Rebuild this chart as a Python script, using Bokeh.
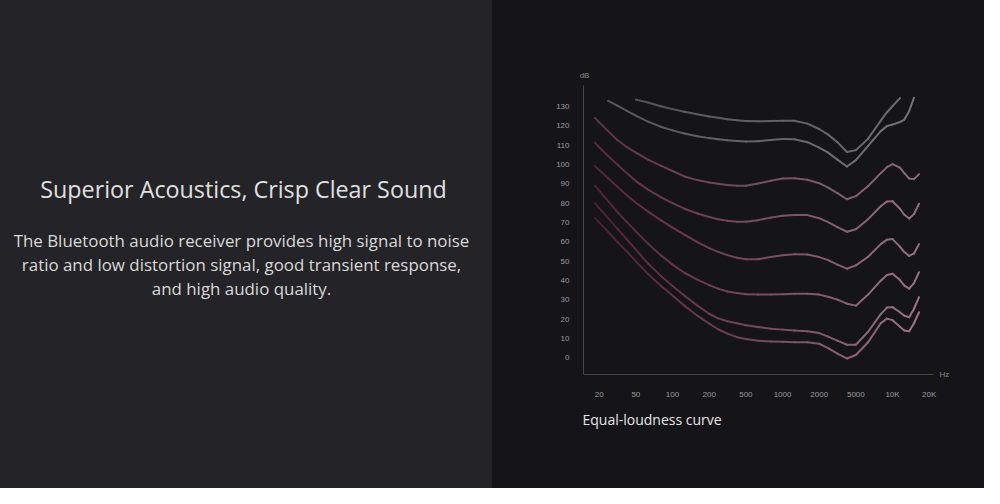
import numpy as np
from bokeh.plotting import figure
from bokeh.models import Range1d, Label, FixedTicker, LinearAxis, Title
from bokeh.layouts import row
from bokeh.embed import file_html
from bokeh.resources import INLINE

nan = float("nan")

# ---------------- data ----------------
freq_tick_hz = [20, 50, 100, 200, 500, 1000, 2000, 5000, 10000, 20000]
freq_tick_labels = ["20", "50", "100", "200", "500", "1000", "2000", "5000", "10K", "20K"]
db_ticks = [0, 10, 20, 30, 40, 50, 60, 70, 80, 90, 100, 110, 120, 130]

freq_hz = [18, 20, 25, 31.5, 40, 50, 63, 80, 100, 125, 160, 200, 250, 315, 400, 500,
           630, 800, 1000, 1250, 1600, 2000, 2500, 3150, 4000, 5000, 6300, 8000, 9000,
           10000, 11500, 12500, 13700, 15000, 16500]

curve_1 = [nan, nan, nan, nan, nan, 133.5, 132.0, 130.1, 128.6, 127.2, 125.9, 124.8, 124.1,
           123.4, 122.8, 122.4, 122.3, 122.4, 122.6, 122.6, 121.1, 118.3, 115.4, 111.5, 106.4,
           107.4, 113.3, 122.6, 127.0, 130.1, 134.3, nan, nan, nan, nan]
curve_2 = [nan, nan, 132.9, 130.4, 127.7, 125.2, 122.1, 119.5, 117.6, 116.0, 114.6, 113.6,
           113.0, 112.5, 112.1, 111.9, 112.0, 112.6, 113.1, 113.0, 111.5, 108.7, 106.1, 102.5,
           98.9, 102.2, 109.6, 117.2, 119.8, 120.6, 121.9, 123.2, 127.6, 134.5, nan]
curve_3 = [124.0, 121.8, 117.2, 112.6, 108.9, 106.1, 102.5, 99.4, 96.6, 93.8, 91.9, 90.7, 90.0,
           89.4, 89.0, 89.0, 90.1, 91.6, 92.7, 92.9, 92.1, 90.3, 88.0, 85.2, 82.0, 83.6, 88.8,
           95.5, 98.6, 100.2, 98.3, 95.5, 92.7, 92.4, 95.0]
curve_4 = [111.3, 108.9, 104.3, 99.9, 95.5, 91.4, 87.0, 83.1, 80.0, 77.1, 74.6, 72.8, 71.7,
           70.9, 70.4, 70.4, 71.2, 72.5, 73.5, 73.9, 73.8, 72.2, 70.2, 67.6, 65.2, 66.5, 71.7,
           78.4, 80.8, 81.0, 77.1, 74.0, 72.0, 74.3, 79.7]
curve_5 = [99.1, 97.1, 92.9, 88.5, 84.1, 80.2, 75.6, 71.2, 67.3, 63.7, 59.8, 56.7, 54.8, 53.1,
           51.8, 51.0, 51.0, 52.1, 53.1, 53.6, 53.4, 52.1, 50.5, 48.2, 46.1, 47.8, 52.3, 58.8,
           61.1, 61.4, 57.5, 54.7, 52.7, 54.0, 58.8]
curve_6 = [89.0, 86.5, 81.0, 75.4, 70.2, 65.4, 59.0, 53.1, 48.2, 44.0, 40.4, 37.6, 35.8, 34.3,
           33.5, 32.9, 32.7, 32.7, 32.9, 33.1, 33.2, 32.7, 31.6, 30.1, 28.0, 27.0, 32.7, 39.9,
           42.8, 43.5, 40.2, 37.3, 35.8, 38.6, 44.3]
curve_7 = [80.0, 77.4, 72.2, 66.8, 61.2, 55.9, 48.8, 42.5, 37.2, 32.2, 27.0, 22.8, 20.4, 18.9,
           17.9, 16.9, 15.9, 15.1, 14.6, 14.1, 13.7, 12.8, 11.0, 8.9, 6.8, 6.8, 13.5, 22.6, 26.0,
           26.2, 23.6, 21.8, 21.0, 25.4, 31.4]
curve_8 = [72.2, 70.0, 65.2, 60.0, 54.9, 49.9, 43.3, 37.3, 32.2, 27.0, 21.8, 17.7, 14.8, 12.5,
           10.7, 9.7, 8.9, 8.5, 8.3, 8.1, 8.1, 7.3, 5.0, 2.2, -0.3, 1.5, 8.1, 17.9, 20.3, 19.5,
           16.1, 14.1, 13.8, 17.9, 23.6]

curves = [curve_1, curve_2, curve_3, curve_4, curve_5, curve_6, curve_7, curve_8]

title_text = "Superior Acoustics, Crisp Clear Sound"
body_lines = ["The Bluetooth audio receiver provides high signal to noise",
              "ratio and low distortion signal, good transient response,",
              "and high audio quality."]
caption_text = "Equal-loudness curve"
y_unit_text = "dB"
x_unit_text = "Hz"

# ---------------- styles ----------------
LEFT_BG = "#242327"
RIGHT_BG = "#151419"
FONT = "Liberation Sans"
TEXT_FONT = "Open Sans"
color_left = ["#504f55", "#56535b", "#5e3046", "#5a2840", "#552339", "#512036", "#4d1e33", "#4a1c31"]
color_right = ["#716f76", "#77737c", "#8a6a7b", "#94707f", "#98727f", "#9b7482", "#9b7482", "#9b7482"]

X_START, X_END = -0.428, 9.117
Y_START, Y_END = -8.6, 140.8


def hz_to_pos(f):
    lf = np.log10(np.asarray(f, dtype=float))
    lt = np.log10(np.asarray(freq_tick_hz, dtype=float))
    pos = np.interp(lf, lt, np.arange(len(lt), dtype=float))
    below = lf < lt[0]
    pos[below] = (lf[below] - lt[0]) / (lt[1] - lt[0])
    return pos


def hex_to_rgb(h):
    h = h.lstrip("#")
    return np.array([int(h[i:i + 2], 16) for i in (0, 2, 4)], dtype=float)


def mix(c1, c2, t):
    a, b = hex_to_rgb(c1), hex_to_rgb(c2)
    c = a + (b - a) * t
    return "#%02x%02x%02x" % tuple(int(round(v)) for v in c)


BORDERS = dict(min_border_top=85, min_border_bottom=114)

# ---------------- left panel ----------------
left = figure(width=492, height=488, x_range=Range1d(0, 492), y_range=Range1d(374, 85),
              toolbar_location=None, output_backend="svg",
              min_border_left=0, min_border_right=0, **BORDERS,
              x_axis_location=None, y_axis_location=None,
              styles={"background-color": LEFT_BG})
left.grid.visible = False
left.outline_line_color = None
left.background_fill_color = None
left.border_fill_color = None

left.add_layout(Label(x=243, y=188, text=title_text, text_align="center", text_baseline="middle",
                      text_font=TEXT_FONT, text_font_size="23.3px", text_color="#e0e0e0"))
for i, line in enumerate(body_lines):
    left.add_layout(Label(x=241, y=240 + 23.9 * i, text=line, text_align="center",
                          text_baseline="middle", text_font=TEXT_FONT, text_font_size="16.9px",
                          text_color="#d9d9d9"))

# ---------------- right panel (chart) ----------------
p = figure(width=492, height=488, x_range=Range1d(X_START, X_END), y_range=Range1d(Y_START, Y_END),
           toolbar_location=None, output_backend="svg",
           min_border_left=91, min_border_right=51, **BORDERS,
           styles={"background-color": RIGHT_BG})
p.grid.visible = False
p.outline_line_color = None
p.background_fill_color = None
p.border_fill_color = None

p.xaxis.ticker = FixedTicker(ticks=list(range(len(freq_tick_hz))))
p.xaxis.major_label_overrides = {i: lab for i, lab in enumerate(freq_tick_labels)}
p.yaxis.ticker = FixedTicker(ticks=db_ticks)
for ax in (p.xaxis[0], p.yaxis[0]):
    ax.axis_line_color = "#46454b"
    ax.axis_line_width = 1
    ax.major_tick_line_color = None
    ax.minor_tick_line_color = None
    ax.major_tick_out = 0
    ax.major_tick_in = 0
    ax.minor_tick_out = 0
    ax.minor_tick_in = 0
    ax.major_label_text_color = "#9c9c9c"
    ax.major_label_text_font = FONT
    ax.major_label_text_font_size = "8px"
p.yaxis.major_label_standoff = 14
p.xaxis.major_label_standoff = 15

# caption below the x-axis
p.add_layout(Title(text=caption_text, align="left", offset=-1, standoff=12,
                   text_font=TEXT_FONT, text_font_size="14px", text_font_style="normal",
                   text_color="#e6e6e6"), "below")


def unit_axis(ticks, overrides, standoff):
    ax = LinearAxis(ticker=FixedTicker(ticks=ticks), major_label_overrides=overrides)
    ax.axis_line_color = None
    ax.major_tick_line_color = None
    ax.minor_tick_line_color = None
    ax.major_tick_out = 0
    ax.major_tick_in = 0
    ax.minor_tick_out = 0
    ax.minor_tick_in = 0
    ax.major_label_standoff = standoff
    ax.major_label_text_color = "#8a8a8a"
    ax.major_label_text_font = FONT
    ax.major_label_text_font_size = "8px"
    return ax


# unit names: "dB" above the y-axis, "Hz" at the end of the x-axis
p.add_layout(unit_axis([-0.4], {-0.4: y_unit_text}, 6), "above")
p.add_layout(unit_axis([-8.59], {-8.59: x_unit_text}, 6), "right")

fpos = hz_to_pos(freq_hz)
pmin, pmax = -0.2, 8.8
for k, db in enumerate(curves):
    db = np.asarray(db, dtype=float)
    xs, ys, cols = [], [], []
    for i in range(len(db) - 1):
        if np.isnan(db[i]) or np.isnan(db[i + 1]):
            continue
        xs.append([fpos[i], fpos[i + 1]])
        ys.append([db[i], db[i + 1]])
        t = ((fpos[i] + fpos[i + 1]) / 2 - pmin) / (pmax - pmin)
        t = min(max(t, 0.0), 1.0)
        cols.append(mix(color_left[k], color_right[k], t))
    p.multi_line(xs, ys, line_color=cols, line_width=2, line_cap="round", line_join="round")

# emphasised "100" tick label (drawn over the regular one)
p.add_layout(Label(x=-14, y=100, x_units="screen", y_units="data", text="100", text_align="right",
                   text_baseline="middle", text_font=FONT, text_font_size="8px",
                   text_font_style="bold", text_color="#dedede"))

layout = row(left, p, spacing=0)
open("out.html", "w").write(file_html(layout, INLINE))
